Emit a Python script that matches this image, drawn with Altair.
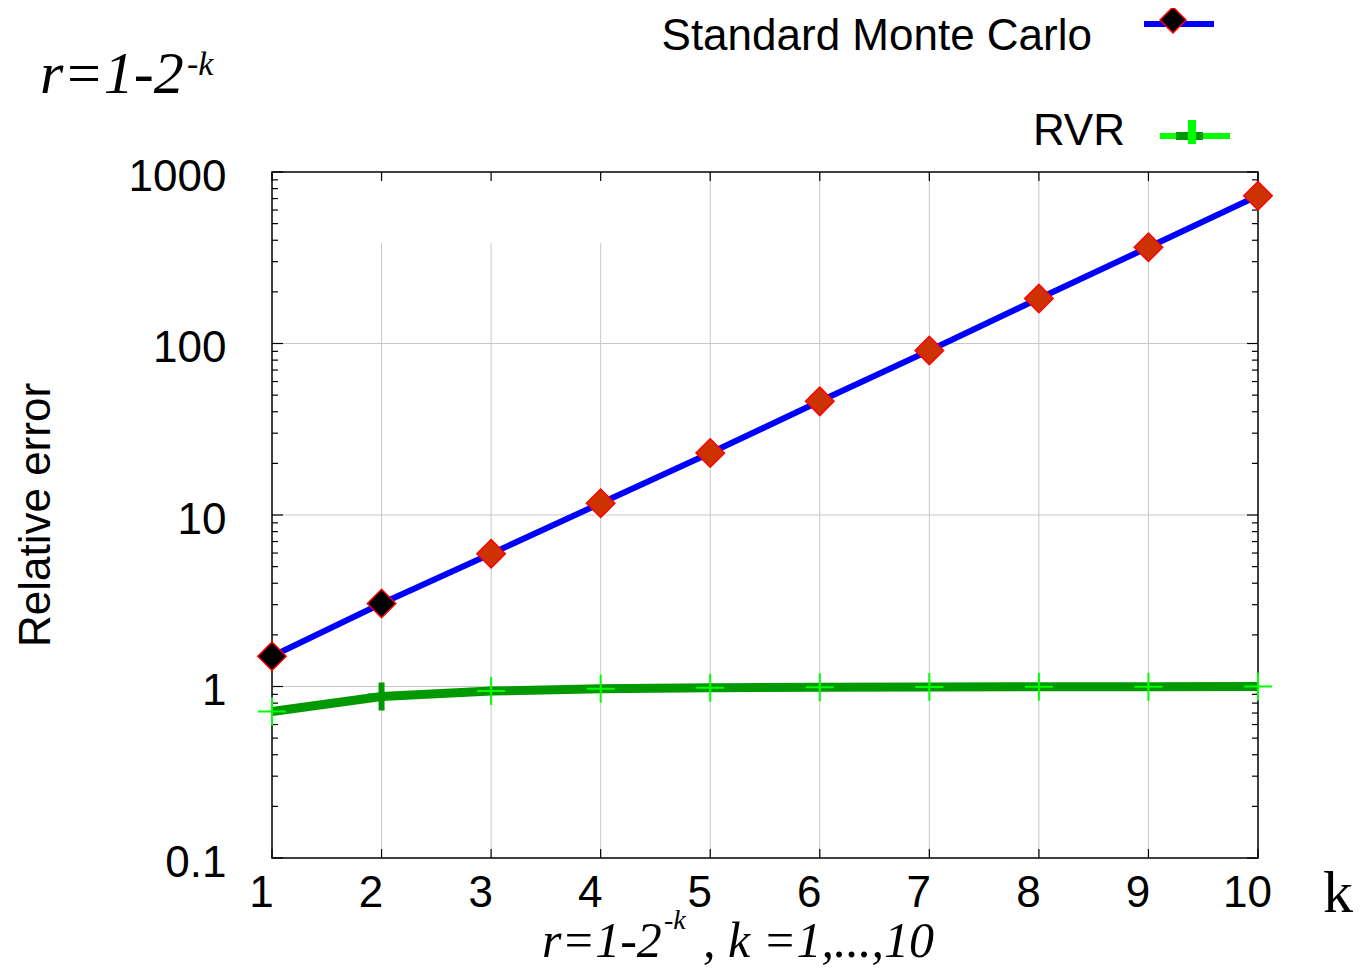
import altair as alt
import pandas as pd

# ---- data ----
k_vals = [1, 2, 3, 4, 5, 6, 7, 8, 9, 10]
mc_err = [1.5, 3.05, 5.95, 11.7, 23.0, 46.0, 91.0, 183.0, 364.0, 727.0]
mc_fill = ["#000000", "#000000", "#cc3300", "#cc3300", "#cc3300",
           "#cc3300", "#cc3300", "#cc3300", "#cc3300", "#cc3300"]
rvr_err = [0.715, 0.875, 0.94, 0.97, 0.983, 0.99, 0.993, 0.996, 0.998, 1.0]
rvr_mark = ["#00ff00", "#009900", "#00ff00", "#00ff00", "#00ff00",
            "#00ff00", "#00ff00", "#00ff00", "#00ff00", "#00ff00"]
rvr_mark_w = [2, 6, 2, 2, 2, 2, 2, 2, 2, 2]

y_ticks = [0.1, 1, 10, 100, 1000]
y_minor = [m * d for d in [0.1, 1, 10, 100] for m in range(2, 10)]
y_grid = [1, 10, 100]
x_grid = [2, 3, 4, 5, 6, 7, 8, 9]
x_grid_top = [385, 385, 385, 1000, 1000, 1000, 1000, 1000]
x_ticks = [1, 2, 3, 4, 5, 6, 7, 8, 9, 10]

W, H = 986, 686
SANS = "Liberation Sans"
SERIF = "Liberation Serif"

xs = alt.Scale(domain=[1, 10], nice=False, zero=False)
ys = alt.Scale(type="log", domain=[0.1, 1000], nice=False)

xaxis = alt.Axis(values=x_ticks, format="d", title=None,
                 ticks=False, domain=False, grid=False, labelFont=SANS, labelFontSize=44,
                 labelColor="black", labelPadding=13, labelOffset=-11, labelFlush=False,
                 labelOverlap=False)
yaxis = alt.Axis(values=y_ticks, format="~g", title=None,
                 ticks=False, domain=False, grid=False, labelFont=SANS, labelFontSize=44,
                 labelColor="black", labelPadding=46, labelOffset=5, labelFlush=False,
                 labelOverlap=False)

mc = pd.DataFrame({"k": k_vals, "err": mc_err, "fill": mc_fill})
rvr = pd.DataFrame({"k": k_vals, "err": rvr_err, "c": rvr_mark, "w": rvr_mark_w})

X = alt.X("k:Q", scale=xs, axis=xaxis)
Y = alt.Y("err:Q", scale=ys, axis=yaxis)

# grid
hgrid = alt.Chart(pd.DataFrame({"err": y_grid})).mark_rule(color="#c8c8c8", strokeWidth=1).encode(
    y=Y, x=alt.value(0), x2=alt.value(W))
vgrid = alt.Chart(pd.DataFrame({"k": x_grid, "err": x_grid_top})).mark_rule(
    color="#c8c8c8", strokeWidth=1).encode(
    x=X, y=Y, y2=alt.value(H))

# ticks
tdf_y = pd.DataFrame({"err": y_ticks})
tdf_m = pd.DataFrame({"err": y_minor})
tdf_x = pd.DataFrame({"k": x_ticks})
tk = dict(color="black", strokeWidth=1.2)
ticks = [
    alt.Chart(tdf_y).mark_rule(**tk).encode(y=Y, x=alt.value(0), x2=alt.value(11)),
    alt.Chart(tdf_y).mark_rule(**tk).encode(y=Y, x=alt.value(W - 11), x2=alt.value(W)),
    alt.Chart(tdf_m).mark_rule(**tk).encode(y=Y, x=alt.value(0), x2=alt.value(6)),
    alt.Chart(tdf_m).mark_rule(**tk).encode(y=Y, x=alt.value(W - 6), x2=alt.value(W)),
    alt.Chart(tdf_x).mark_rule(**tk).encode(x=X, y=alt.value(H - 9), y2=alt.value(H)),
    alt.Chart(tdf_x).mark_rule(**tk).encode(x=X, y=alt.value(0), y2=alt.value(9)),
]

# series
mc_line = alt.Chart(mc).mark_line(color="#0000ff", strokeWidth=6).encode(x=X, y=Y)
mc_pts = alt.Chart(mc).mark_point(shape="diamond", filled=True, size=810, stroke="#ff0000",
                                  strokeWidth=1.5, opacity=1).encode(
    x=X, y=Y, fill=alt.Fill("fill:N", scale=None))
rvr_line = alt.Chart(rvr).mark_line(color="#009900", strokeWidth=9).encode(x=X, y=Y)
rvr_pts = alt.Chart(rvr).mark_point(shape="M-1,0L1,0M0,-1L0,1", filled=False, size=784,
                                    opacity=1).encode(
    x=X, y=Y, stroke=alt.Stroke("c:N", scale=None),
    strokeWidth=alt.StrokeWidth("w:Q", scale=None))

# frame
frame = alt.Chart(pd.DataFrame({"a": [0]})).mark_rect(fill=None, stroke="black", strokeWidth=1.5).encode(
    x=alt.value(0), x2=alt.value(W), y=alt.value(0), y2=alt.value(H))


def txt(s, x, y, size, font, align="left", baseline="alphabetic", style="normal", angle=0):
    kw = dict(align=align, baseline=baseline, font=font, fontSize=size, fontStyle=style,
              color="black")
    if angle:
        kw["angle"] = angle
    return alt.Chart(pd.DataFrame({"t": [s]})).mark_text(**kw).encode(
        text="t:N", x=alt.value(x), y=alt.value(y))


texts = [
    txt("Relative error", -235, H / 2, 44, SANS, align="center", baseline="middle", angle=270),
    txt("k", 1066, 740, 60, SERIF, align="center"),
    txt("r=1-2", 270, 785, 50, SERIF, style="italic"),
    txt("-k", 392, 757, 28, SERIF, style="italic"),
    txt(", k =1,...,10", 431, 785, 50, SERIF, style="italic"),
    txt("r=1-2", -232, -79, 60, SERIF, style="italic"),
    txt("-k", -85, -97, 34, SERIF, style="italic"),
    txt("Standard Monte Carlo", 820, -135, 44, SANS, align="right", baseline="middle"),
    txt("RVR", 853, -40, 44, SANS, align="right", baseline="middle"),
]

# legend samples
one = pd.DataFrame({"a": [0]})
leg = [
    alt.Chart(one).mark_rule(color="#0000ff", strokeWidth=6).encode(
        x=alt.value(872), x2=alt.value(942), y=alt.value(-148)),
    alt.Chart(one).mark_point(shape="diamond", filled=True, size=676, fill="black",
                              stroke="#ff0000", strokeWidth=1.5, opacity=1).encode(
        x=alt.value(901), y=alt.value(-152)),
    alt.Chart(one).mark_rule(color="#00ff00", strokeWidth=6).encode(
        x=alt.value(888), x2=alt.value(958), y=alt.value(-36)),
    alt.Chart(one).mark_rule(color="#009900", strokeWidth=8).encode(
        x=alt.value(904), x2=alt.value(931), y=alt.value(-36)),
    alt.Chart(one).mark_rule(color="#00ff00", strokeWidth=8).encode(
        x=alt.value(920), y=alt.value(-52), y2=alt.value(-28)),
]

chart = alt.layer(
    hgrid, vgrid, *ticks, frame, mc_line, mc_pts, rvr_line, rvr_pts, *texts, *leg
).properties(
    width=W, height=H,
    autosize=alt.AutoSizeParams(type="none"),
    padding={"left": 264, "top": 164, "right": 100, "bottom": 110},
).configure_view(stroke=None)

chart.save("out.html", embed_options={"renderer": "svg", "actions": False})
